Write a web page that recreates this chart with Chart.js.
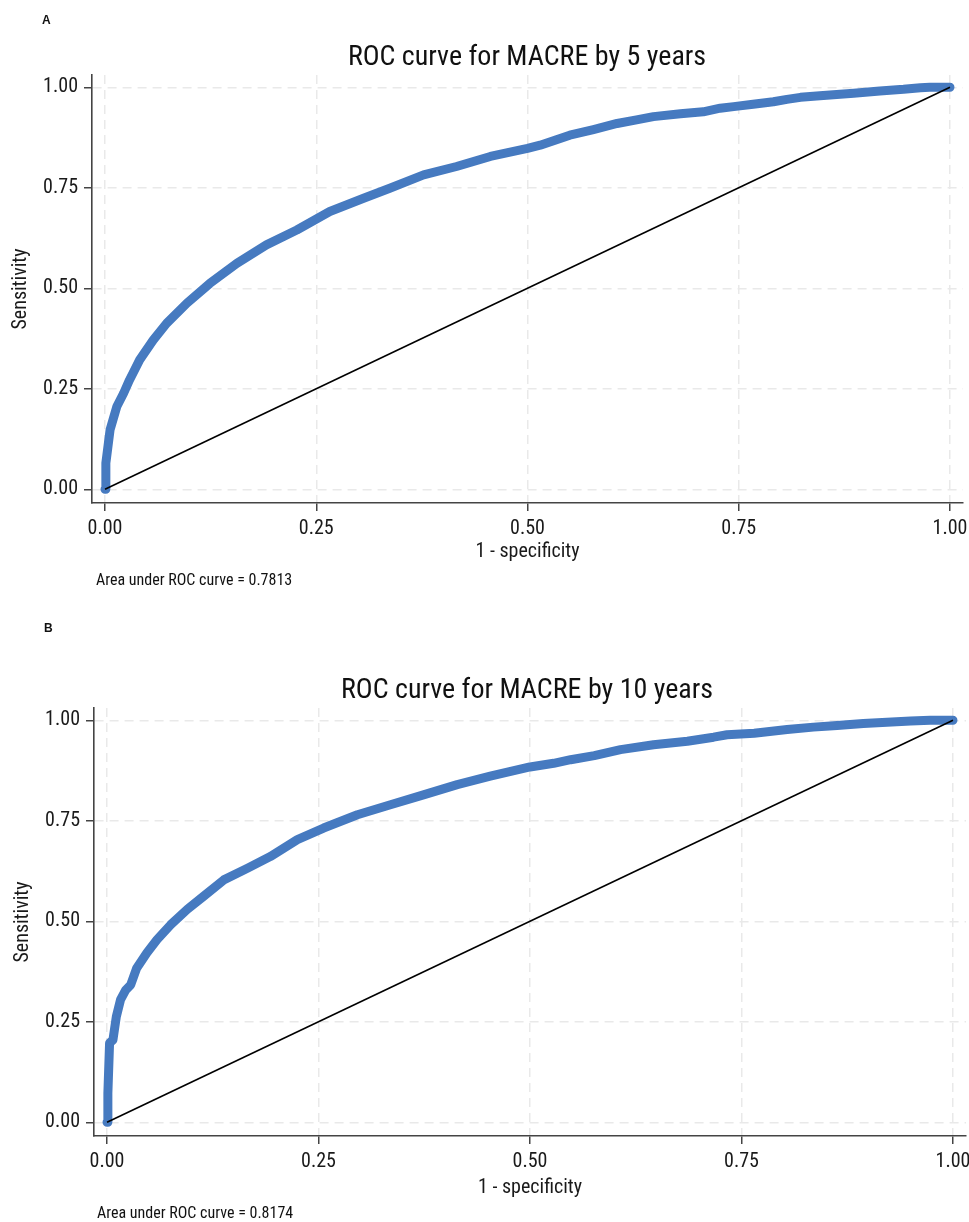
<!DOCTYPE html>
<html>
<head>
<meta charset="utf-8">
<script src="https://cdn.jsdelivr.net/npm/chart.js@4.4.1/dist/chart.umd.min.js"></script>
<style>
  html, body { margin: 0; padding: 0; background: #ffffff; }
  body { width: 969px; height: 1222px; position: relative; overflow: hidden;
         font-family: 'Liberation Sans Narrow', 'Arial Narrow', 'Roboto Condensed', 'DejaVu Sans Condensed', sans-serif; color: #111; }
  canvas { position: absolute; left: 0; }
  #cA { top: 0; }
  #cB { top: 611px; }
  .txt { position: absolute; white-space: nowrap; line-height: 1; }
  .title { font-size: 28px; transform: translateX(-50%); }
  .letter { font-family: 'Liberation Sans', Arial, sans-serif; font-weight: bold; font-size: 12px; }
  .note { font-size: 16px; }
</style>
</head>
<body>
<canvas id="cA" width="969" height="611"></canvas>
<canvas id="cB" width="969" height="611"></canvas>

<div class="txt letter" style="left:42px; top:14px;">A</div>
<div class="txt title" style="left:527px; top:42px;">ROC curve for MACRE by 5 years</div>
<div class="txt note" style="left:96px; top:572px;">Area under ROC curve = 0.7813</div>

<div class="txt letter" style="left:44px; top:622px;">B</div>
<div class="txt title" style="left:527px; top:675px;">ROC curve for MACRE by 10 years</div>
<div class="txt note" style="left:97px; top:1205px;">Area under ROC curve = 0.8174</div>

<script>
// ---- data ----
const tickValues = [0, 0.25, 0.5, 0.75, 1];
const tickLabels = ['0.00', '0.25', '0.50', '0.75', '1.00'];

const fprA = [0, 0.001, 0.006, 0.014, 0.022, 0.029, 0.041, 0.057, 0.073, 0.097, 0.124, 0.156, 0.191, 0.227, 0.266, 0.306, 0.337, 0.377, 0.416, 0.456,
              0.5, 0.515, 0.55, 0.578, 0.606, 0.629, 0.649, 0.681, 0.708, 0.728, 0.744, 0.767, 0.791, 0.807, 0.823, 0.846, 0.886, 0.917, 0.945, 0.965, 0.976, 0.988, 1];
const tprA = [0, 0.065, 0.148, 0.206, 0.239, 0.272, 0.322, 0.371, 0.413, 0.463, 0.512, 0.562, 0.608, 0.645, 0.691, 0.724, 0.749, 0.782, 0.803, 0.828,
              0.848, 0.856, 0.881, 0.895, 0.910, 0.919, 0.927, 0.934, 0.939, 0.948, 0.952, 0.958, 0.964, 0.970, 0.975, 0.979, 0.985, 0.991, 0.995, 0.999, 1.0, 1.0, 1.0];

const fprB = [0, 0.001, 0.003, 0.007, 0.011, 0.016, 0.022, 0.028, 0.035, 0.047, 0.059, 0.075, 0.095, 0.114, 0.138, 0.166, 0.193, 0.225, 0.256, 0.296, 0.335, 0.375, 0.414, 0.453,
              0.5, 0.528, 0.548, 0.576, 0.607, 0.646, 0.686, 0.717, 0.733, 0.765, 0.804, 0.835, 0.863, 0.894, 0.922, 0.950, 0.973, 1];
const tprB = [0, 0.072, 0.197, 0.205, 0.263, 0.305, 0.329, 0.342, 0.383, 0.421, 0.454, 0.491, 0.530, 0.562, 0.603, 0.632, 0.661, 0.703, 0.732, 0.765, 0.790, 0.815, 0.840, 0.861,
              0.884, 0.893, 0.902, 0.912, 0.927, 0.939, 0.948, 0.958, 0.964, 0.968, 0.977, 0.983, 0.987, 0.992, 0.995, 0.998, 1.0, 1.0];

const refX = [0, 1];
const refY = [0, 1];

const xTitle = '1 - specificity';
const yTitle = 'Sensitivity';

// ---- chart construction ----
const FONT = "'Liberation Sans Narrow', 'Arial Narrow', 'Roboto Condensed', 'DejaVu Sans Condensed', sans-serif";
Chart.defaults.font.family = FONT;
Chart.defaults.color = '#1a1a1a';

function pts(xs, ys) { return xs.map((x, i) => ({ x: x, y: ys[i] })); }

function makeChart(id, fpr, tpr, cfg) {
  const axisCommon = {
    type: 'linear',
    afterBuildTicks: s => { s.ticks = tickValues.map(v => ({ value: v })); },
    ticks: {
      callback: (v) => tickLabels[tickValues.indexOf(v)] ?? '',
      font: { size: 20 },
      color: '#1a1a1a',
      padding: 6,
      maxRotation: 0,
      autoSkip: false
    },
    grid: {
      color: '#e9e9e9',
      lineWidth: 1.5,
      tickColor: '#444',
      tickWidth: 1.5,
      tickLength: 8,
      tickBorderDash: []
    },
    border: { display: true, color: '#444', width: 1.6, dash: [9, 6] }
  };
  return new Chart(document.getElementById(id), {
    type: 'scatter',
    data: {
      datasets: [
        { data: pts(refX, refY), showLine: true, borderColor: '#000', borderWidth: 1.6,
          pointRadius: 0, order: 0 },
        { data: pts(fpr, tpr), showLine: true, borderColor: 'rgb(70,122,192)', borderWidth: 9,
          borderCapStyle: 'round', borderJoinStyle: 'round', pointRadius: 0, order: 1 }
      ]
    },
    options: {
      responsive: false,
      devicePixelRatio: 1,
      animation: false,
      events: [],
      layout: { padding: cfg.padding },
      plugins: { legend: { display: false }, tooltip: { enabled: false }, title: { display: false } },
      scales: {
        x: Object.assign({}, axisCommon, {
          min: -0.0154, max: 1.0154,
          title: { display: true, text: xTitle, font: { size: 20 }, color: '#1a1a1a', padding: 0 },
          afterFit: s => { s.height = cfg.xh; s.paddingLeft = 0; s.paddingRight = 0; }
        }),
        y: Object.assign({}, axisCommon, {
          min: -0.0341, max: 1.0306,
          title: { display: true, text: yTitle, font: { size: 20 }, color: '#1a1a1a', padding: { top: cfg.ytp, bottom: 0 } },
          afterFit: s => { s.width = 92; s.paddingTop = 0; s.paddingBottom = 0; }
        })
      }
    }
  });
}

makeChart('cA', fprA, tprA, { padding: { left: 0, top: 75, right: 6, bottom: 47 }, xh: 61, ytp: 9 });
makeChart('cB', fprB, tprB, { padding: { left: 2, top: 97, right: 3, bottom: 22 }, xh: 64, ytp: 9 });
</script>
</body>
</html>
